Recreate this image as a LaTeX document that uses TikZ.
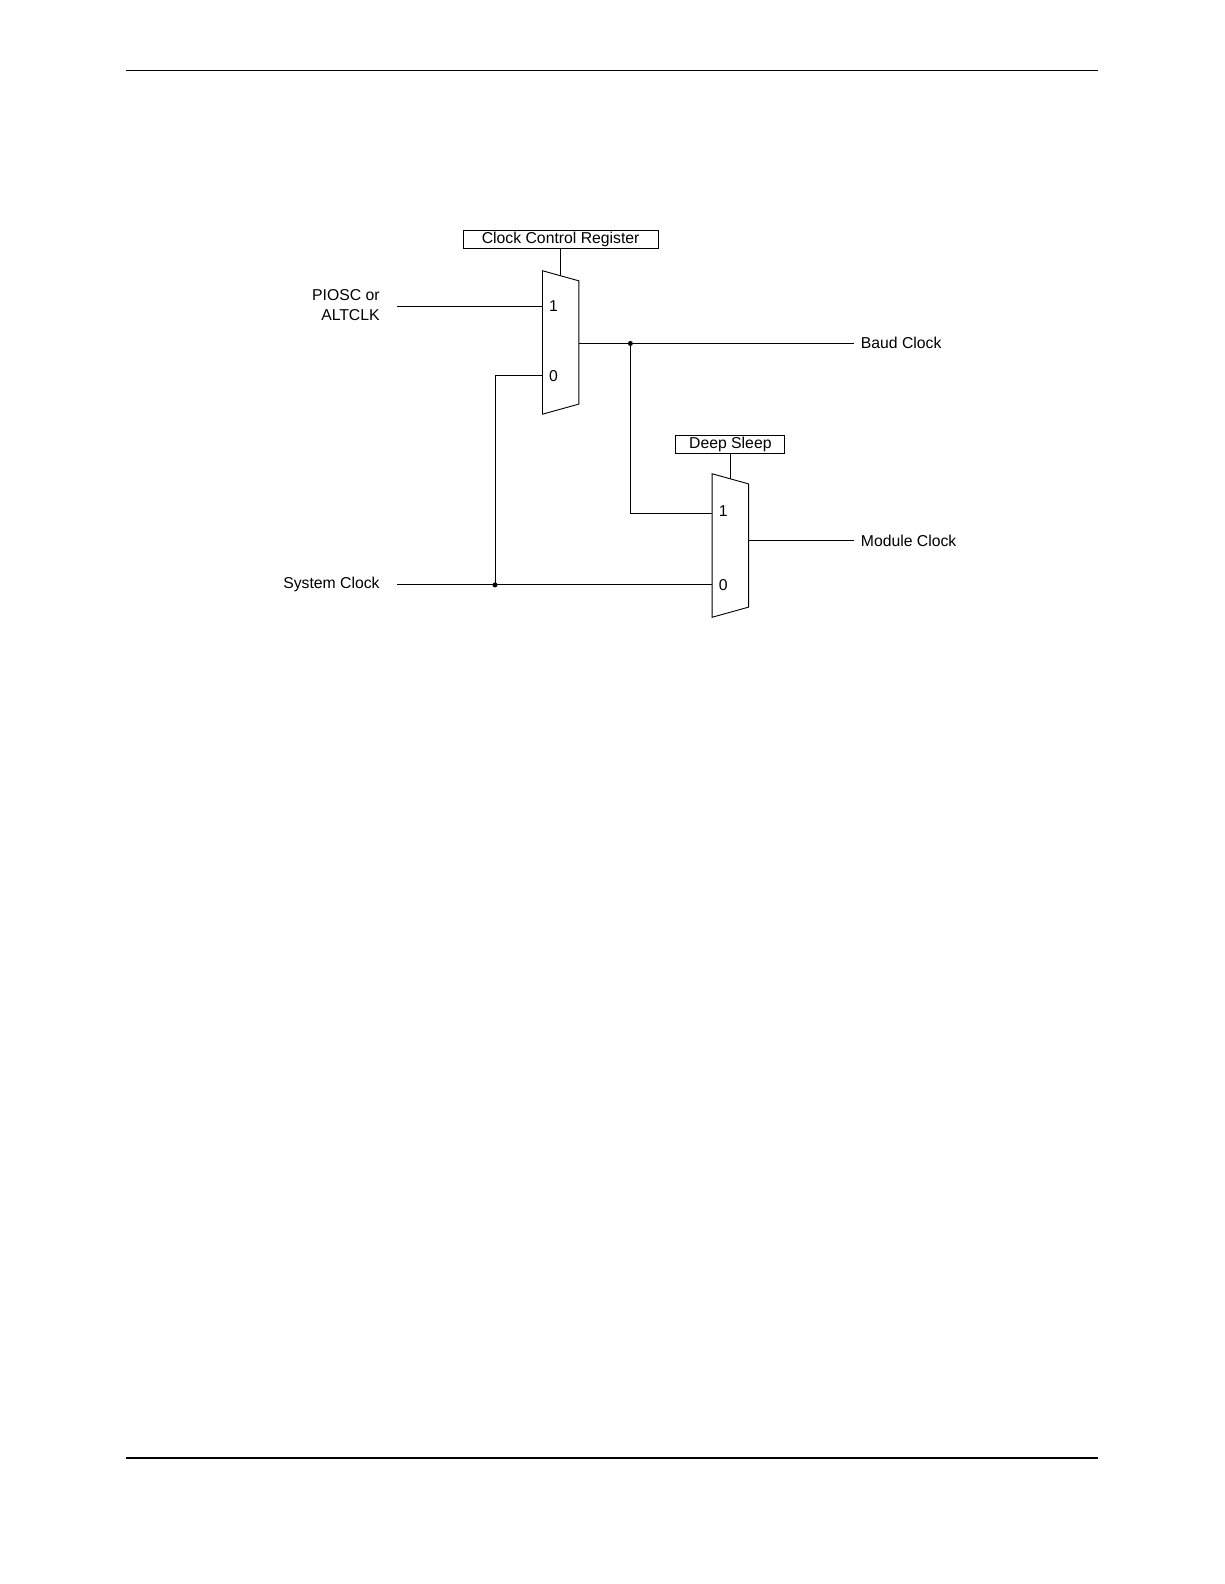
\documentclass[tikz,border=0pt]{standalone}
\usepackage{fontspec}
\setmainfont{Liberation Sans}
\usetikzlibrary{positioning}
\tikzset{
  regbox/.style={draw, line width=0.9pt, minimum height=18pt, inner sep=0pt},
  lbl/.style={inner sep=0pt, font=\fontsize{15.6}{19}\selectfont},
  wire/.style={line width=0.9pt},
  dotnode/.style={circle, fill, inner sep=0pt, minimum size=5pt}
}
\begin{document}
\begin{tikzpicture}[x=1pt,y=-1pt]
\useasboundingbox (0,0) rectangle (1212,1568);
% page rules
\draw[line width=1.5pt] (125,70) -- (1087,70);
\draw[line width=1.5pt] (125,1443) -- (1087,1443);
% registers
\node[regbox, minimum width=193pt, lbl] (ccr) at (555,237) {Clock Control Register};
\node[regbox, minimum width=108pt, lbl] (ds) at (723,440) {Deep Sleep};
% multiplexers
\draw[wire] (537,268) -- (573,278) -- (573,400) -- (537,410) -- cycle;
\draw[wire] (705,469) -- (741,479) -- (741,601) -- (705,611) -- cycle;
\coordinate (muxa1) at (537,303);
\coordinate (muxa0) at (537,372);
\coordinate (muxaout) at (573,340);
\coordinate (muxb1) at (705,508);
\coordinate (muxb0) at (705,579);
\coordinate (muxbout) at (741,535);
\node[lbl] at (548,303) {1};
\node[lbl] at (548,372) {0};
\node[lbl] at (716,506) {1};
\node[lbl] at (716,579) {0};
\draw[wire] (ccr.south) -- (555,273);
\draw[wire] (ds.south) -- (723,474);
% inputs
\node[lbl, anchor=east, align=right] (piosc) at (376,302) {PIOSC or\\ALTCLK};
\node[lbl, anchor=east] (sysclk) at (376,579) {System Clock};
\coordinate (pin) at (393,303);
\coordinate (sin) at (393,579);
\node[dotnode] (sdot) at (490,579) {};
\node[dotnode] (bdot) at (624,340) {};
% outputs
\node[lbl, anchor=west] (baud) at (852,339) {Baud Clock};
\node[lbl, anchor=west] (module) at (852,535) {Module Clock};
\coordinate (bend) at (845,340);
\coordinate (mend) at (845,535);
% wires
\draw[wire] (pin) -- (muxa1);
\draw[wire] (sin) -- (muxb0);
\draw[wire] (sdot.center) |- (muxa0);
\draw[wire] (muxaout) -- (bend);
\draw[wire] (bdot.center) |- (muxb1);
\draw[wire] (muxbout) -- (mend);
\end{tikzpicture}
\end{document}
